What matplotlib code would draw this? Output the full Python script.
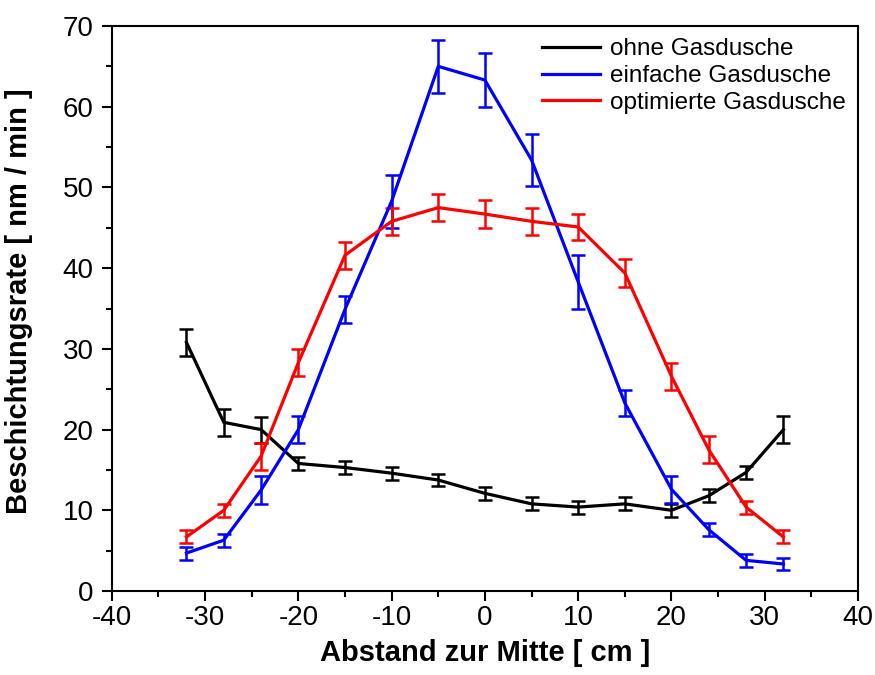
import matplotlib
matplotlib.use("Agg")
import matplotlib.pyplot as plt
from matplotlib.ticker import MultipleLocator

plt.rcParams['font.family'] = ['Liberation Sans', 'DejaVu Sans']
plt.rcParams['axes.unicode_minus'] = False

# Abstand zur Mitte [cm]
pos = [-32, -28, -24, -20, -15, -10, -5, 0, 5, 10, 15, 20, 24, 28, 32]

# ohne Gasdusche
rate_ohne = [30.8, 20.9, 20.0, 15.8, 15.3, 14.6, 13.75, 12.1, 10.8, 10.4, 10.8, 10.0, 11.8, 14.7, 20.0]
err_ohne = [1.7, 1.7, 1.6, 0.8, 0.8, 0.8, 0.8, 0.8, 0.8, 0.8, 0.8, 0.8, 0.8, 0.8, 1.7]

# einfache Gasdusche
rate_einfach = [4.7, 6.3, 12.5, 20.0, 34.9, 48.3, 65.0, 63.3, 53.4, 38.3, 23.3, 12.6, 7.6, 3.8, 3.35]
err_einfach = [0.8, 0.8, 1.7, 1.7, 1.7, 3.3, 3.3, 3.3, 3.25, 3.3, 1.65, 1.65, 0.8, 0.8, 0.8]

# optimierte Gasdusche
rate_opt = [6.7, 10.0, 16.7, 28.3, 41.6, 45.8, 47.5, 46.7, 45.8, 45.1, 39.4, 26.6, 17.5, 10.4, 6.7]
err_opt = [0.8, 0.8, 1.65, 1.65, 1.7, 1.7, 1.7, 1.7, 1.65, 1.65, 1.7, 1.7, 1.65, 0.8, 0.8]

fig = plt.figure(figsize=(8.75, 6.75), dpi=100)
ax = fig.add_axes([0.1278, 0.1244, 0.8528, 0.8371])

series = [
    (rate_ohne, err_ohne, 'black', 'ohne Gasdusche'),
    (rate_einfach, err_einfach, '#0000ff', 'einfache Gasdusche'),
    (rate_opt, err_opt, '#ff0000', 'optimierte Gasdusche'),
]
for vals, errs, col, lab in series:
    ax.errorbar(pos, vals, yerr=errs, color=col, lw=2.3, elinewidth=1.8,
                capsize=4.8, capthick=1.8, label=lab)

ax.set_xlim(-40, 40)
ax.set_ylim(0, 70)
ax.xaxis.set_major_locator(MultipleLocator(10))
ax.xaxis.set_minor_locator(MultipleLocator(5))
ax.yaxis.set_major_locator(MultipleLocator(10))
ax.yaxis.set_minor_locator(MultipleLocator(5))
ax.tick_params(which='major', direction='out', length=7, width=1.5, labelsize=20)
ax.tick_params(which='minor', direction='out', length=4, width=1.5)
ax.tick_params(axis='y', which='major', pad=6)
ax.tick_params(axis='x', which='major', pad=3)
for sp in ax.spines.values():
    sp.set_linewidth(1.5)

ax.set_xlabel('Abstand zur Mitte [ cm ]', fontsize=21, fontweight='bold')
ax.set_ylabel('Beschichtungsrate [ nm / min ]', fontsize=21, fontweight='bold')
ax.xaxis.set_label_coords(0.5, -0.085)
ax.yaxis.set_label_coords(-0.105, 0.513)

handles, labels = ax.get_legend_handles_labels()
handles = [h[0] for h in handles]
ax.legend(handles, labels, loc='upper right', frameon=False, fontsize=17.5,
          handlelength=2.4, handletextpad=0.4, labelspacing=0.2,
          borderaxespad=0.1, bbox_to_anchor=(1.0, 1.0))

fig.savefig('out.png', dpi=100)
